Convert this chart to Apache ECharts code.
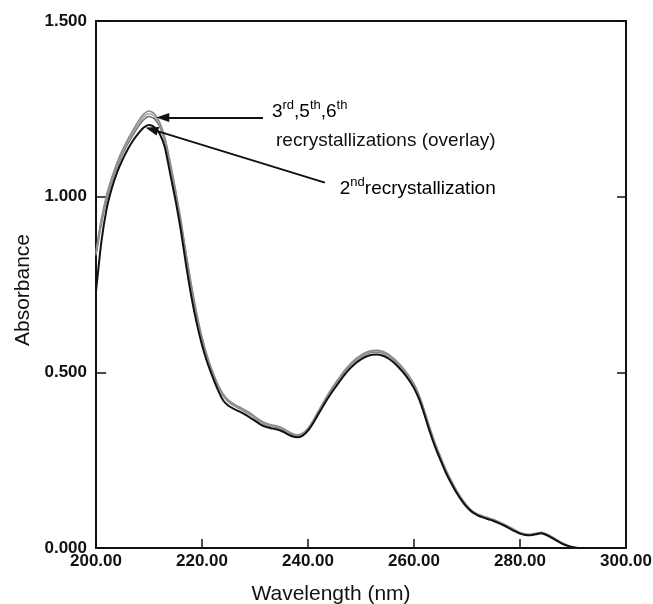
<!DOCTYPE html>
<html>
<head>
<meta charset="utf-8">
<title>Absorbance spectra</title>
<script src="https://cdn.jsdelivr.net/npm/echarts@6/dist/echarts.min.js"></script>
<style>
  html, body { margin: 0; padding: 0; background: #ffffff; }
  #chart { width: 653px; height: 604px; }
</style>
</head>
<body>
<div id="chart"></div>
<script>
// Wavelength grid (nm)
const wavelengths = [
  200, 201, 202, 203, 204, 205, 206, 207, 208, 209,
  210, 211, 212, 213, 214, 215, 216, 217, 218, 219,
  220, 221, 222, 223, 224, 225, 226, 227, 228, 229,
  230, 231, 232, 233, 234, 235, 236, 237, 238, 239,
  240, 241, 242, 243, 244, 245, 246, 247, 248, 249,
  250, 251, 252, 253, 254, 255, 256, 257, 258, 259,
  260, 261, 262, 263, 264, 265, 266, 267, 268, 269,
  270, 271, 272, 273, 274, 275, 276, 277, 278, 279,
  280, 281, 282, 283, 284, 285, 286, 287, 288, 289,
  290, 291, 295, 300
];

// 2nd recrystallization
const abs2nd = [
  0.730, 0.870, 0.965, 1.025, 1.070, 1.105, 1.135, 1.160, 1.180, 1.197,
  1.204, 1.198, 1.180, 1.140, 1.065, 0.990, 0.905, 0.805, 0.715, 0.640,
  0.578, 0.528, 0.487, 0.450, 0.420, 0.405, 0.396, 0.389, 0.381, 0.372,
  0.362, 0.352, 0.345, 0.341, 0.338, 0.333, 0.325, 0.318, 0.315, 0.320,
  0.334, 0.356, 0.382, 0.408, 0.432, 0.454, 0.475, 0.495, 0.512, 0.526,
  0.537, 0.545, 0.550, 0.551, 0.548, 0.541, 0.530, 0.516, 0.499, 0.479,
  0.455, 0.422, 0.378, 0.330, 0.287, 0.250, 0.215, 0.185, 0.158, 0.135,
  0.116, 0.102, 0.093, 0.087, 0.082, 0.077, 0.071, 0.064, 0.056, 0.048,
  0.041, 0.037, 0.036, 0.039, 0.042, 0.037, 0.029, 0.020, 0.012, 0.006,
  0.002, 0.000, 0.000, 0.000
];

// 3rd recrystallization
const abs3rd = [
  0.845, 0.935, 1.005, 1.055, 1.098, 1.133, 1.163, 1.190, 1.215, 1.235,
  1.244, 1.236, 1.212, 1.168, 1.098, 1.020, 0.935, 0.838, 0.748, 0.668,
  0.600, 0.546, 0.502, 0.466, 0.438, 0.421, 0.410, 0.402, 0.394, 0.385,
  0.374, 0.364, 0.356, 0.351, 0.348, 0.343, 0.334, 0.326, 0.322, 0.327,
  0.341, 0.364, 0.391, 0.418, 0.443, 0.466, 0.487, 0.507, 0.524, 0.538,
  0.549, 0.557, 0.562, 0.563, 0.560, 0.553, 0.542, 0.528, 0.511, 0.491,
  0.467, 0.434, 0.390, 0.342, 0.298, 0.260, 0.224, 0.193, 0.165, 0.141,
  0.121, 0.106, 0.097, 0.091, 0.086, 0.081, 0.075, 0.068, 0.060, 0.052,
  0.044, 0.040, 0.039, 0.042, 0.045, 0.040, 0.032, 0.023, 0.014, 0.008,
  0.003, 0.000, 0.000, 0.000
];

// 5th recrystallization
const abs5th = [
  0.838, 0.928, 0.998, 1.049, 1.091, 1.126, 1.156, 1.183, 1.207, 1.227,
  1.236, 1.229, 1.206, 1.163, 1.094, 1.016, 0.931, 0.835, 0.745, 0.665,
  0.597, 0.543, 0.499, 0.463, 0.435, 0.418, 0.407, 0.399, 0.391, 0.382,
  0.371, 0.361, 0.353, 0.348, 0.345, 0.340, 0.331, 0.323, 0.319, 0.324,
  0.338, 0.361, 0.388, 0.415, 0.440, 0.463, 0.484, 0.504, 0.521, 0.535,
  0.546, 0.554, 0.559, 0.560, 0.557, 0.550, 0.539, 0.525, 0.508, 0.488,
  0.464, 0.431, 0.387, 0.339, 0.295, 0.257, 0.221, 0.190, 0.163, 0.139,
  0.119, 0.104, 0.095, 0.089, 0.084, 0.079, 0.073, 0.066, 0.058, 0.050,
  0.043, 0.039, 0.038, 0.041, 0.044, 0.039, 0.031, 0.022, 0.013, 0.007,
  0.002, 0.000, 0.000, 0.000
];

// 6th recrystallization
const abs6th = [
  0.832, 0.921, 0.991, 1.043, 1.085, 1.120, 1.150, 1.176, 1.200, 1.219,
  1.228, 1.222, 1.200, 1.158, 1.090, 1.012, 0.927, 0.832, 0.742, 0.662,
  0.595, 0.541, 0.497, 0.461, 0.433, 0.416, 0.405, 0.397, 0.389, 0.380,
  0.369, 0.359, 0.351, 0.346, 0.343, 0.338, 0.329, 0.321, 0.317, 0.322,
  0.336, 0.359, 0.386, 0.413, 0.438, 0.461, 0.482, 0.502, 0.519, 0.533,
  0.544, 0.552, 0.557, 0.558, 0.555, 0.548, 0.537, 0.523, 0.506, 0.486,
  0.462, 0.429, 0.385, 0.337, 0.293, 0.255, 0.219, 0.189, 0.162, 0.138,
  0.118, 0.103, 0.094, 0.088, 0.083, 0.078, 0.072, 0.065, 0.057, 0.049,
  0.042, 0.038, 0.037, 0.040, 0.043, 0.038, 0.030, 0.021, 0.013, 0.006,
  0.002, 0.000, 0.000, 0.000
];

// Arrows: [fromWavelength, fromAbs, toWavelength, toAbs]
const arrowOverlay = [231.5, 1.225, 212.6, 1.225];
const arrowSecond  = [243.2, 1.040, 210.5, 1.1915];

// Annotation texts anchored in data units (left edge, bottom of line box)
const noteOverlayTop    = { at: [233.2, 1.215], text: '{b|3}{s|rd}{b|,5}{s|th}{b|,6}{s|th}' };
const noteOverlayBottom = { at: [233.96, 1.160], text: 'recrystallizations (overlay)' };
const noteSecond        = { at: [246.0, 0.996], text: '{b|2}{s|nd}{b|recrystallization}' };

const FONT = '"Liberation Sans", Arial, sans-serif';
const INK = '#111111';

const toPairs = (ys) => wavelengths.map((x, i) => [x, ys[i]]);

const chart = echarts.init(document.getElementById('chart'), null, { renderer: 'canvas' });

const arrowLine = (a) => [
  { coord: [a[0], a[1]], symbol: 'none' },
  { coord: [a[2], a[3]], symbol: 'triangle', symbolSize: [9, 13] }
];

const lineSeries = (name, ys, color, width, extra) => Object.assign({
  name: name,
  type: 'line',
  data: toPairs(ys),
  showSymbol: false,
  symbol: 'none',
  smooth: 0.2,
  silent: true,
  lineStyle: { color: color, width: width },
  emphasis: { disabled: true }
}, extra || {});

chart.setOption({
  animation: false,
  backgroundColor: '#ffffff',
  textStyle: { fontFamily: FONT },
  grid: { left: 96, right: 27, top: 21, bottom: 56, containLabel: false, outerBoundsMode: 'none' },
  xAxis: [
    {
      type: 'value',
      min: 200, max: 300, interval: 20,
      name: 'Wavelength (nm)',
      nameLocation: 'middle',
      nameGap: 36,
      nameTextStyle: { fontFamily: FONT, fontSize: 21, color: INK, padding: [0, 60, 0, 0] },
      axisLine: { show: true, onZero: false, lineStyle: { color: INK, width: 2 } },
      axisTick: { show: true, inside: true, length: 9, lineStyle: { color: INK, width: 1.5 } },
      axisLabel: {
        margin: 5, fontFamily: FONT, fontSize: 17, fontWeight: 'bold', color: INK,
        formatter: (v) => v.toFixed(2)
      },
      splitLine: { show: false }
    },
    {
      type: 'value', position: 'top',
      min: 200, max: 300, interval: 20,
      axisLine: { show: true, onZero: false, lineStyle: { color: INK, width: 2 } },
      axisTick: { show: false },
      axisLabel: { show: false },
      splitLine: { show: false }
    }
  ],
  yAxis: [
    {
      type: 'value',
      min: 0, max: 1.5, interval: 0.5,
      name: 'Absorbance',
      nameLocation: 'middle',
      nameGap: 62,
      nameTextStyle: { fontFamily: FONT, fontSize: 21, color: INK, padding: [0, 11, 0, 0] },
      axisLine: { show: true, onZero: false, lineStyle: { color: INK, width: 2 } },
      axisTick: { show: true, inside: true, length: 10, lineStyle: { color: INK, width: 1.5 } },
      axisLabel: {
        margin: 9, fontFamily: FONT, fontSize: 17, fontWeight: 'bold', color: INK,
        formatter: (v) => v.toFixed(3)
      },
      splitLine: { show: false }
    },
    {
      type: 'value', position: 'right',
      min: 0, max: 1.5, interval: 0.5,
      axisLine: { show: true, onZero: false, lineStyle: { color: INK, width: 2 } },
      axisTick: { show: true, inside: true, length: 9, lineStyle: { color: INK, width: 1.5 } },
      axisLabel: { show: false },
      splitLine: { show: false }
    }
  ],
  series: [
    lineSeries('6th recrystallization', abs6th, '#6e6e6e', 1.5),
    lineSeries('5th recrystallization', abs5th, '#a6a6a6', 1.5),
    lineSeries('3rd recrystallization', abs3rd, '#8a8a8a', 1.6),
    lineSeries('2nd recrystallization', abs2nd, '#111111', 2, {
      markLine: {
        silent: true,
        animation: false,
        label: { show: false },
        emphasis: { disabled: true },
        lineStyle: { color: INK, width: 2, type: 'solid' },
        itemStyle: { color: INK },
        data: [arrowLine(arrowOverlay), arrowLine(arrowSecond)]
      }
    })
  ]
});

// Annotation labels, placed from data coordinates
const richStyles = {
  b: { fontFamily: FONT, fontSize: 19, lineHeight: 22, color: INK, verticalAlign: 'bottom' },
  s: { fontFamily: FONT, fontSize: 13, lineHeight: 12, color: INK, verticalAlign: 'top' }
};
const px = (p) => chart.convertToPixel({ xAxisIndex: 0, yAxisIndex: 0 }, p);
const pTop = px(noteOverlayTop.at);
const pMid = px(noteOverlayBottom.at);
const pSec = px(noteSecond.at);

chart.setOption({
  graphic: [
    {
      type: 'text', x: pTop[0], y: pTop[1], silent: true,
      style: { text: noteOverlayTop.text, rich: richStyles, align: 'left', verticalAlign: 'bottom' }
    },
    {
      type: 'text', x: pMid[0], y: pMid[1], silent: true,
      style: {
        text: noteOverlayBottom.text, fontFamily: FONT, fontSize: 19, fill: INK,
        align: 'left', verticalAlign: 'middle'
      }
    },
    {
      type: 'text', x: pSec[0], y: pSec[1], silent: true,
      style: { text: noteSecond.text, rich: richStyles, align: 'left', verticalAlign: 'bottom' }
    }
  ]
});
</script>
</body>
</html>
